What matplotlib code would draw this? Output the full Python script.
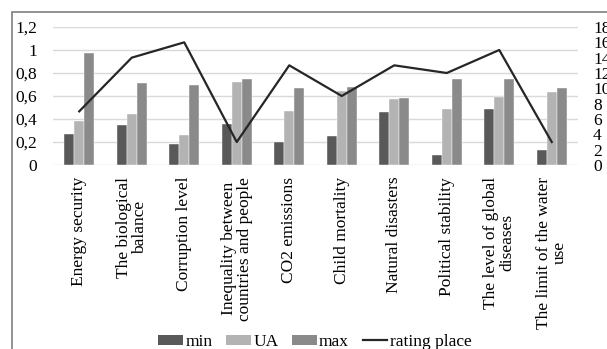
import matplotlib.pyplot as plt
import numpy as np
from matplotlib.lines import Line2D
from matplotlib.patches import Patch, Rectangle

plt.rcParams["font.family"] = ["Liberation Serif", "DejaVu Serif"]
plt.rcParams["font.size"] = 12.5

categories = [
    "Energy security",
    "The biological\nbalance",
    "Corruption level",
    "Inequality between\ncountries and people",
    "CO2 emissions",
    "Child mortality",
    "Natural disasters",
    "Political stability",
    "The level of global\ndiseases",
    "The limit of the water\nuse",
]
min_vals = [0.27, 0.345, 0.18, 0.355, 0.20, 0.25, 0.465, 0.085, 0.49, 0.13]
ua_vals = [0.38, 0.44, 0.26, 0.72, 0.47, 0.64, 0.575, 0.49, 0.595, 0.635]
max_vals = [0.975, 0.71, 0.70, 0.745, 0.67, 0.68, 0.58, 0.745, 0.745, 0.67]
rating_place = [7, 14, 16, 3, 13, 9, 13, 12, 15, 3]

left_ticks = [0, 0.2, 0.4, 0.6, 0.8, 1.0, 1.2]
left_labels = ["0", "0,2", "0,4", "0,6", "0,8", "1", "1,2"]
right_ticks = list(range(0, 19, 2))

C_MIN = "#595959"
C_UA = "#b3b3b3"
C_MAX = "#8a8a8a"
C_LINE = "#262626"
GRID = "#d9d9d9"

W, H = 607, 349
fig = plt.figure(figsize=(W / 100, H / 100), dpi=100)

# outer chart frame (runs off the right and bottom edges)
fig.add_artist(Rectangle((12 / W, -0.1), 1.2, 1 - 12 / H + 0.1,
                         transform=fig.transFigure, fill=False,
                         edgecolor="#7f7f7f", linewidth=1.2))

ax = fig.add_axes([53 / W, (H - 165) / H, (578 - 53) / W, (165 - 27) / H])
x = np.arange(len(categories))
bw = 0.19
ax.bar(x - bw, min_vals, bw, color=C_MIN, edgecolor="white", linewidth=0.3)
ax.bar(x, ua_vals, bw, color=C_UA, edgecolor="white", linewidth=0.3)
ax.bar(x + bw, max_vals, bw, color=C_MAX, edgecolor="white", linewidth=0.3)

ax.set_xlim(-0.5, len(categories) - 0.5)
ax.set_ylim(0, 1.2)
ax.set_yticks(left_ticks)
ax.set_yticklabels(left_labels)
ax.yaxis.grid(True, color=GRID, linewidth=1)
ax.set_axisbelow(True)
ax.set_xticks(x)
ax.set_xticklabels(categories, rotation=90, ha="center", va="top",
                   multialignment="center", linespacing=1.0)
ax.tick_params(axis="both", length=0)
ax.tick_params(axis="y", pad=11.5)
ax.tick_params(axis="x", pad=8.5)
for s in ax.spines.values():
    s.set_visible(False)

ax2 = ax.twinx()
ax2.plot(x, rating_place, color=C_LINE, linewidth=1.6)
ax2.set_ylim(0, 18)
ax2.set_yticks(right_ticks)
ax2.tick_params(axis="y", length=0, pad=10.8)
for s in ax2.spines.values():
    s.set_visible(False)

handles = [
    Patch(facecolor=C_MIN, label="min"),
    Patch(facecolor=C_UA, label="UA"),
    Patch(facecolor=C_MAX, label="max"),
    Line2D([], [], color=C_LINE, linewidth=1.6, label="rating place"),
]
fig.legend(handles=handles, loc="center", bbox_to_anchor=(315 / W, 1 - 342 / H),
           ncol=4, frameon=False, handlelength=1.4, handleheight=0.5,
           handletextpad=0.15, columnspacing=0.8, borderpad=0)

fig.savefig("out.png", dpi=100)
